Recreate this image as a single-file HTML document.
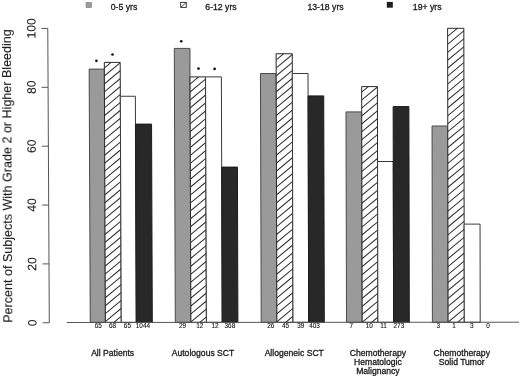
<!DOCTYPE html>
<html><head><meta charset="utf-8"><style>
html,body{margin:0;padding:0;background:#fff;width:520px;height:376px;overflow:hidden}
svg{display:block}
text{font-family:"Liberation Sans",sans-serif;fill:#1a1a1a;stroke:#1a1a1a;stroke-width:0.3px}
.yt{font-size:12.2px;stroke-width:0.1px}
.yti{font-size:12.55px;stroke-width:0.1px}
.ct{font-size:6.4px;stroke-width:0.12px}
.gl{font-size:8.6px}
.lg{font-size:8.7px}
</style></head><body>
<svg width="520" height="376" viewBox="0 0 520 376">
<defs><clipPath id="c1"><polygon points="105.40,322.30 104.32,62.40 120.20,62.40 121.25,322.30"/></clipPath><clipPath id="c2"><polygon points="190.90,322.30 190.03,76.90 205.56,76.90 206.40,322.30"/></clipPath><clipPath id="c3"><polygon points="276.90,322.30 276.12,53.75 292.25,53.75 293.00,322.30"/></clipPath><clipPath id="c4"><polygon points="362.20,322.30 361.66,86.60 377.39,86.60 377.90,322.30"/></clipPath><clipPath id="c5"><polygon points="448.10,322.30 447.61,28.30 463.84,28.30 464.30,322.30"/></clipPath><filter id="bl" x="0" y="0" width="520" height="376" filterUnits="userSpaceOnUse" color-interpolation-filters="sRGB"><feOffset dx="0" dy="0"/></filter></defs>
<rect width="520" height="376" fill="#fff"/>
<g filter="url(#bl)">
<rect width="520" height="376" fill="#fff"/>
<polygon points="90.25,322.30 89.17,69.10 104.35,69.10 105.40,322.30" fill="#9a9a9a" stroke="#4a4a4a" stroke-width="1"/><polygon points="105.40,322.30 104.32,62.40 120.20,62.40 121.25,322.30" fill="#fff"/><path clip-path="url(#c1)" d="M103.32,347.13L122.25,331.36M103.32,339.18L122.25,323.41M103.32,331.23L122.25,315.46M103.32,323.28L122.25,307.51M103.32,315.33L122.25,299.56M103.32,307.38L122.25,291.61M103.32,299.43L122.25,283.66M103.32,291.48L122.25,275.71M103.32,283.53L122.25,267.76M103.32,275.58L122.25,259.81M103.32,267.63L122.25,251.86M103.32,259.68L122.25,243.91M103.32,251.73L122.25,235.96M103.32,243.78L122.25,228.01M103.32,235.83L122.25,220.06M103.32,227.88L122.25,212.11M103.32,219.93L122.25,204.16M103.32,211.98L122.25,196.21M103.32,204.03L122.25,188.26M103.32,196.08L122.25,180.31M103.32,188.13L122.25,172.36M103.32,180.18L122.25,164.41M103.32,172.23L122.25,156.46M103.32,164.28L122.25,148.51M103.32,156.33L122.25,140.56M103.32,148.38L122.25,132.61M103.32,140.43L122.25,124.66M103.32,132.48L122.25,116.71M103.32,124.53L122.25,108.76M103.32,116.58L122.25,100.81M103.32,108.63L122.25,92.86M103.32,100.68L122.25,84.91M103.32,92.73L122.25,76.96M103.32,84.78L122.25,69.01M103.32,76.83L122.25,61.06M103.32,68.88L122.25,53.11M103.32,60.93L122.25,45.16" stroke="#333" stroke-width="1.05" fill="none"/><polygon points="105.40,322.30 104.32,62.40 120.20,62.40 121.25,322.30" fill="none" stroke="#2a2a2a" stroke-width="1"/><polygon points="121.25,322.30 120.34,96.25 135.36,96.25 136.25,322.30" fill="#ffffff" stroke="#3a3a3a" stroke-width="1"/><polygon points="136.25,322.30 135.47,124.10 151.55,124.10 152.30,322.30" fill="#282828" stroke="#1c1c1c" stroke-width="1"/><polygon points="175.30,322.30 174.30,48.40 189.93,48.40 190.90,322.30" fill="#9a9a9a" stroke="#4a4a4a" stroke-width="1"/><polygon points="190.90,322.30 190.03,76.90 205.56,76.90 206.40,322.30" fill="#fff"/><path clip-path="url(#c2)" d="M189.03,347.26L207.40,331.96M189.03,339.31L207.40,324.01M189.03,331.36L207.40,316.06M189.03,323.41L207.40,308.11M189.03,315.46L207.40,300.16M189.03,307.51L207.40,292.21M189.03,299.56L207.40,284.26M189.03,291.61L207.40,276.31M189.03,283.66L207.40,268.36M189.03,275.71L207.40,260.41M189.03,267.76L207.40,252.46M189.03,259.81L207.40,244.51M189.03,251.86L207.40,236.56M189.03,243.91L207.40,228.61M189.03,235.96L207.40,220.66M189.03,228.01L207.40,212.71M189.03,220.06L207.40,204.76M189.03,212.11L207.40,196.81M189.03,204.16L207.40,188.86M189.03,196.21L207.40,180.91M189.03,188.26L207.40,172.96M189.03,180.31L207.40,165.01M189.03,172.36L207.40,157.06M189.03,164.41L207.40,149.11M189.03,156.46L207.40,141.16M189.03,148.51L207.40,133.21M189.03,140.56L207.40,125.26M189.03,132.61L207.40,117.31M189.03,124.66L207.40,109.36M189.03,116.71L207.40,101.41M189.03,108.76L207.40,93.46M189.03,100.81L207.40,85.51M189.03,92.86L207.40,77.56M189.03,84.91L207.40,69.61M189.03,76.96L207.40,61.66" stroke="#333" stroke-width="1.05" fill="none"/><polygon points="190.90,322.30 190.03,76.90 205.56,76.90 206.40,322.30" fill="none" stroke="#2a2a2a" stroke-width="1"/><polygon points="206.40,322.30 205.56,76.90 221.39,76.90 222.20,322.30" fill="#ffffff" stroke="#3a3a3a" stroke-width="1"/><polygon points="222.20,322.30 221.69,167.10 237.41,167.10 237.90,322.30" fill="#282828" stroke="#1c1c1c" stroke-width="1"/><polygon points="261.20,322.30 260.45,73.50 276.18,73.50 276.90,322.30" fill="#9a9a9a" stroke="#4a4a4a" stroke-width="1"/><polygon points="276.90,322.30 276.12,53.75 292.25,53.75 293.00,322.30" fill="#fff"/><path clip-path="url(#c3)" d="M275.12,347.09L294.00,331.36M275.12,339.14L294.00,323.41M275.12,331.19L294.00,315.46M275.12,323.24L294.00,307.51M275.12,315.29L294.00,299.56M275.12,307.34L294.00,291.61M275.12,299.39L294.00,283.66M275.12,291.44L294.00,275.71M275.12,283.49L294.00,267.76M275.12,275.54L294.00,259.81M275.12,267.59L294.00,251.86M275.12,259.64L294.00,243.91M275.12,251.69L294.00,235.96M275.12,243.74L294.00,228.01M275.12,235.79L294.00,220.06M275.12,227.84L294.00,212.11M275.12,219.89L294.00,204.16M275.12,211.94L294.00,196.21M275.12,203.99L294.00,188.26M275.12,196.04L294.00,180.31M275.12,188.09L294.00,172.36M275.12,180.14L294.00,164.41M275.12,172.19L294.00,156.46M275.12,164.24L294.00,148.51M275.12,156.29L294.00,140.56M275.12,148.34L294.00,132.61M275.12,140.39L294.00,124.66M275.12,132.44L294.00,116.71M275.12,124.49L294.00,108.76M275.12,116.54L294.00,100.81M275.12,108.59L294.00,92.86M275.12,100.64L294.00,84.91M275.12,92.69L294.00,76.96M275.12,84.74L294.00,69.01M275.12,76.79L294.00,61.06M275.12,68.84L294.00,53.11M275.12,60.89L294.00,45.16M275.12,52.94L294.00,37.21" stroke="#333" stroke-width="1.05" fill="none"/><polygon points="276.90,322.30 276.12,53.75 292.25,53.75 293.00,322.30" fill="none" stroke="#2a2a2a" stroke-width="1"/><polygon points="293.00,322.30 292.31,73.50 308.03,73.50 308.70,322.30" fill="#ffffff" stroke="#3a3a3a" stroke-width="1"/><polygon points="308.70,322.30 308.09,95.90 323.72,95.90 324.30,322.30" fill="#282828" stroke="#1c1c1c" stroke-width="1"/><polygon points="346.50,322.30 345.99,111.90 361.72,111.90 362.20,322.30" fill="#9a9a9a" stroke="#4a4a4a" stroke-width="1"/><polygon points="362.20,322.30 361.66,86.60 377.39,86.60 377.90,322.30" fill="#fff"/><path clip-path="url(#c4)" d="M360.66,347.37L378.90,332.17M360.66,339.42L378.90,324.22M360.66,331.47L378.90,316.27M360.66,323.52L378.90,308.32M360.66,315.57L378.90,300.37M360.66,307.62L378.90,292.42M360.66,299.67L378.90,284.47M360.66,291.72L378.90,276.52M360.66,283.77L378.90,268.57M360.66,275.82L378.90,260.62M360.66,267.87L378.90,252.67M360.66,259.92L378.90,244.72M360.66,251.97L378.90,236.77M360.66,244.02L378.90,228.82M360.66,236.07L378.90,220.87M360.66,228.12L378.90,212.92M360.66,220.17L378.90,204.97M360.66,212.22L378.90,197.02M360.66,204.27L378.90,189.07M360.66,196.32L378.90,181.12M360.66,188.37L378.90,173.17M360.66,180.42L378.90,165.22M360.66,172.47L378.90,157.27M360.66,164.52L378.90,149.32M360.66,156.57L378.90,141.37M360.66,148.62L378.90,133.42M360.66,140.67L378.90,125.47M360.66,132.72L378.90,117.52M360.66,124.77L378.90,109.57M360.66,116.82L378.90,101.62M360.66,108.87L378.90,93.67M360.66,100.92L378.90,85.72M360.66,92.97L378.90,77.77M360.66,85.02L378.90,69.82" stroke="#333" stroke-width="1.05" fill="none"/><polygon points="362.20,322.30 361.66,86.60 377.39,86.60 377.90,322.30" fill="none" stroke="#2a2a2a" stroke-width="1"/><polygon points="377.90,322.30 377.55,161.50 393.27,161.50 393.60,322.30" fill="#ffffff" stroke="#3a3a3a" stroke-width="1"/><polygon points="393.60,322.30 393.15,106.60 408.88,106.60 409.30,322.30" fill="#282828" stroke="#1c1c1c" stroke-width="1"/><polygon points="432.40,322.30 432.05,126.00 447.77,126.00 448.10,322.30" fill="#9a9a9a" stroke="#4a4a4a" stroke-width="1"/><polygon points="448.10,322.30 447.61,28.30 463.84,28.30 464.30,322.30" fill="#fff"/><path clip-path="url(#c5)" d="M446.61,347.31L465.30,331.74M446.61,339.36L465.30,323.79M446.61,331.41L465.30,315.84M446.61,323.46L465.30,307.89M446.61,315.51L465.30,299.94M446.61,307.56L465.30,291.99M446.61,299.61L465.30,284.04M446.61,291.66L465.30,276.09M446.61,283.71L465.30,268.14M446.61,275.76L465.30,260.19M446.61,267.81L465.30,252.24M446.61,259.86L465.30,244.29M446.61,251.91L465.30,236.34M446.61,243.96L465.30,228.39M446.61,236.01L465.30,220.44M446.61,228.06L465.30,212.49M446.61,220.11L465.30,204.54M446.61,212.16L465.30,196.59M446.61,204.21L465.30,188.64M446.61,196.26L465.30,180.69M446.61,188.31L465.30,172.74M446.61,180.36L465.30,164.79M446.61,172.41L465.30,156.84M446.61,164.46L465.30,148.89M446.61,156.51L465.30,140.94M446.61,148.56L465.30,132.99M446.61,140.61L465.30,125.04M446.61,132.66L465.30,117.09M446.61,124.71L465.30,109.14M446.61,116.76L465.30,101.19M446.61,108.81L465.30,93.24M446.61,100.86L465.30,85.29M446.61,92.91L465.30,77.34M446.61,84.96L465.30,69.39M446.61,77.01L465.30,61.44M446.61,69.06L465.30,53.49M446.61,61.11L465.30,45.54M446.61,53.16L465.30,37.59M446.61,45.21L465.30,29.64M446.61,37.26L465.30,21.69M446.61,29.31L465.30,13.74" stroke="#333" stroke-width="1.05" fill="none"/><polygon points="448.10,322.30 447.61,28.30 463.84,28.30 464.30,322.30" fill="none" stroke="#2a2a2a" stroke-width="1"/><polygon points="464.30,322.30 464.15,224.10 480.06,224.10 480.20,322.30" fill="#ffffff" stroke="#3a3a3a" stroke-width="1"/>
<circle cx="96.4" cy="60.8" r="1.35" fill="#111"/><circle cx="112.5" cy="54.5" r="1.35" fill="#111"/><circle cx="181.25" cy="41.25" r="1.35" fill="#111"/><circle cx="198.5" cy="68.6" r="1.35" fill="#111"/><circle cx="214.6" cy="68.9" r="1.35" fill="#111"/>
<path d="M47.77,28.45L49.3,322.8" stroke="#555" stroke-width="1" fill="none"/><path d="M42.80,322.75L49.30,322.75" stroke="#555" stroke-width="1" fill="none"/><path d="M42.49,263.90L48.99,263.90" stroke="#555" stroke-width="1" fill="none"/><path d="M42.19,205.05L48.69,205.05" stroke="#555" stroke-width="1" fill="none"/><path d="M41.88,146.20L48.38,146.20" stroke="#555" stroke-width="1" fill="none"/><path d="M41.58,87.30L48.08,87.30" stroke="#555" stroke-width="1" fill="none"/><path d="M41.27,28.45L47.77,28.45" stroke="#555" stroke-width="1" fill="none"/><path d="M66.8,322.5L519,322.2" stroke="#555" stroke-width="1" fill="none"/>
<text x="0" y="0" transform="translate(36.40,322.75) skewX(0.29) rotate(-90)" text-anchor="middle" class="yt">0</text><text x="0" y="0" transform="translate(36.20,263.90) skewX(0.29) rotate(-90)" text-anchor="middle" class="yt">20</text><text x="0" y="0" transform="translate(36.00,205.05) skewX(0.29) rotate(-90)" text-anchor="middle" class="yt">40</text><text x="0" y="0" transform="translate(35.80,146.20) skewX(0.29) rotate(-90)" text-anchor="middle" class="yt">60</text><text x="0" y="0" transform="translate(35.60,87.30) skewX(0.29) rotate(-90)" text-anchor="middle" class="yt">80</text><text x="0" y="0" transform="translate(35.40,28.45) skewX(0.29) rotate(-90)" text-anchor="middle" class="yt">100</text>
<text transform="translate(11.6,176.0) skewX(0.29) rotate(-90)" text-anchor="middle" class="yti">Percent of Subjects With Grade 2 or Higher Bleeding</text>
<text x="98.2" y="328.0" text-anchor="middle" class="ct">65</text><text x="112.6" y="328.0" text-anchor="middle" class="ct">68</text><text x="127.4" y="328.0" text-anchor="middle" class="ct">65</text><text x="142.9" y="328.0" text-anchor="middle" class="ct">1044</text><text x="182.5" y="328.0" text-anchor="middle" class="ct">29</text><text x="199.8" y="328.0" text-anchor="middle" class="ct">12</text><text x="215.0" y="328.0" text-anchor="middle" class="ct">12</text><text x="229.9" y="328.0" text-anchor="middle" class="ct">368</text><text x="270.7" y="328.0" text-anchor="middle" class="ct">26</text><text x="285.5" y="328.0" text-anchor="middle" class="ct">45</text><text x="300.7" y="328.0" text-anchor="middle" class="ct">39</text><text x="314.6" y="328.0" text-anchor="middle" class="ct">403</text><text x="351.3" y="328.0" text-anchor="middle" class="ct">7</text><text x="369.25" y="328.0" text-anchor="middle" class="ct">10</text><text x="383.6" y="328.0" text-anchor="middle" class="ct">11</text><text x="398.9" y="328.0" text-anchor="middle" class="ct">273</text><text x="438.3" y="328.0" text-anchor="middle" class="ct">3</text><text x="454.0" y="328.0" text-anchor="middle" class="ct">1</text><text x="471.75" y="328.0" text-anchor="middle" class="ct">3</text><text x="488.0" y="328.0" text-anchor="middle" class="ct">0</text>
<text x="112.65" y="355.60" text-anchor="middle" class="gl">All Patients</text><text x="203.0" y="355.60" text-anchor="middle" class="gl">Autologous SCT</text><text x="294.25" y="355.60" text-anchor="middle" class="gl">Allogeneic SCT</text><text x="377.9" y="355.60" text-anchor="middle" class="gl">Chemotherapy</text><text x="377.9" y="364.60" text-anchor="middle" class="gl">Hematologic</text><text x="377.9" y="373.60" text-anchor="middle" class="gl">Malignancy</text><text x="461.75" y="355.60" text-anchor="middle" class="gl">Chemotherapy</text><text x="461.75" y="364.60" text-anchor="middle" class="gl">Solid Tumor</text>
<rect x="86.0" y="2.3" width="5.6" height="5.4" fill="#9a9a9a" stroke="#777" stroke-width="0.5"/><rect x="180.7" y="2.4" width="5.6" height="5.0" fill="#fff" stroke="#2a2a2a" stroke-width="0.9"/><path d="M181.0,7.2L186.0,2.7" stroke="#333" stroke-width="0.9"/><rect x="386.8" y="1.9" width="6.0" height="5.8" fill="#1e1e1e"/><text x="110.7" y="9.6" class="lg">0-5 yrs</text><text x="205.29999999999998" y="9.6" class="lg">6-12 yrs</text><text x="307.45" y="9.6" class="lg">13-18 yrs</text><text x="412.8" y="9.6" class="lg">19+ yrs</text>
</g>
</svg>
</body></html>
